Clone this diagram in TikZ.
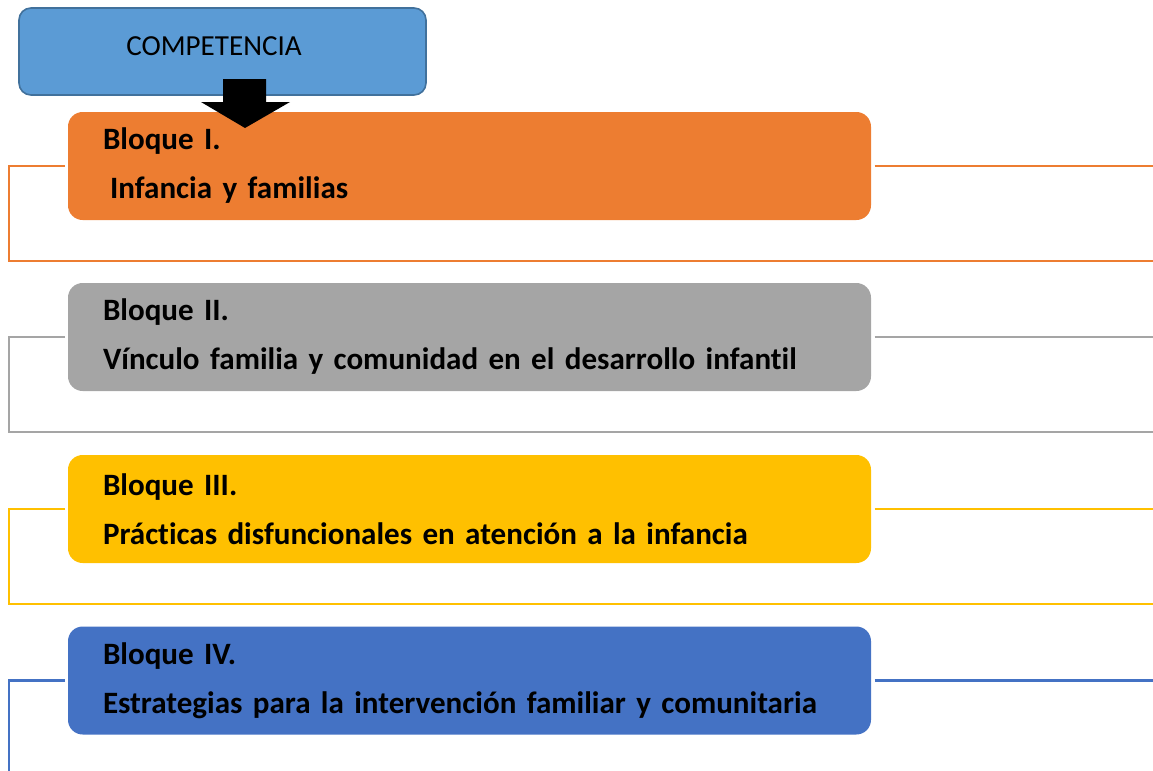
\documentclass[tikz,border=0pt]{standalone}
\usepackage{fontspec}
\setmainfont[Ligatures=NoCommon]{Carlito}
\definecolor{cOr}{HTML}{ED7D31}
\definecolor{cGr}{HTML}{A5A5A5}
\definecolor{cYe}{HTML}{FFC000}
\definecolor{cBl}{HTML}{4472C4}
\definecolor{cComp}{HTML}{5B9BD5}
\definecolor{cCompB}{HTML}{41719C}
\newcommand{\myblockfont}{\fontsize{23.3pt}{36.75pt}\selectfont\bfseries\spaceskip=5.2pt plus 2pt\relax}
\begin{document}
\begin{tikzpicture}[x=0.75pt,y=-0.75pt,
  blockbox/.style={rounded corners=11pt, minimum width=602.25pt, minimum height=81pt,
    text width=549.75pt, inner xsep=26.25pt, inner ysep=0pt, align=left,
    font=\myblockfont, text=black},
  frameline/.style={line width=1.8pt},
  compbox/.style={rounded corners=9pt, fill=cComp, draw=cCompB, line width=1.2pt,
    minimum width=305.25pt, minimum height=65.25pt, inner sep=0pt}]
\useasboundingbox (0,0) rectangle (1153,771);
% competencia
\node[compbox] (comp) at (222.5,51.5) {};
\node[font=\fontsize{21.8pt}{26pt}\selectfont, inner sep=0pt] (compt) at (214,46) {COMPETENCIA};
% blocks
\node[blockbox, fill=cOr] (bI) at (469.5,166) {Bloque I.\\\hspace*{5.3pt}Infancia y familias};
\node[blockbox, fill=cGr] (bII) at (469.5,337) {Bloque II.\\V\'{\i}nculo familia y comunidad en el desarrollo infantil};
\node[blockbox, fill=cYe] (bIII) at (469.5,509) {Bloque III.\\Pr\'acticas disfuncionales en atenci\'on a la infancia};
\node[blockbox, fill=cBl] (bIV) at (469.5,680.5) {Bloque IV.\\Estrategias para la intervenci\'on familiar y comunitaria};
% frame lines
\draw[frameline, cOr] ([xshift=-2pt]bI.west) -- (9,166) -- (9,261) -- (1153,261);
\draw[frameline, cOr] ([xshift=2.5pt]bI.east) -- (1153,166);
\draw[frameline, cGr] ([xshift=-2pt]bII.west) -- (9,337) -- (9,432) -- (1153,432);
\draw[frameline, cGr] ([xshift=2.5pt]bII.east) -- (1153,337);
\draw[frameline, cYe] ([xshift=-2pt]bIII.west) -- (9,509) -- (9,604) -- (1153,604);
\draw[frameline, cYe] ([xshift=2.5pt]bIII.east) -- (1153,509);
\draw[frameline, cBl] ([xshift=-2pt]bIV.west) -- (9,680.5) -- (9,771);
\draw[frameline, cBl] ([xshift=2.5pt]bIV.east) -- (1153,680.5);
% block arrow
\coordinate (tip) at (245,128);
\fill[black] (223,79) -- (266,79) -- (266,102) -- (290,102) -- (tip) -- (201,102) -- (223,102) -- cycle;
\end{tikzpicture}
\end{document}
